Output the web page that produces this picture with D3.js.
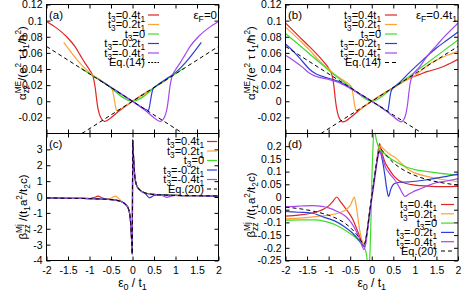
<!DOCTYPE html>
<html>
<head>
<meta charset="utf-8">
<script src="https://cdn.jsdelivr.net/npm/d3@7"></script>
<style>
  body { margin: 0; background: #fff; }
  svg text { font-family: "Liberation Sans", Arial, sans-serif; fill: #000; }
</style>
</head>
<body>
<svg id="chart" width="461" height="291"></svg>
<script>
// ── Data ─────────────────────────────────────────────────────────────────────
const X_TICKS = [-2, -1.5, -1, -0.5, 0, 0.5, 1, 1.5, 2];
const X_TICK_LABELS = ["-2", "-1.5", "-1", "-0.5", "0", "0.5", "1", "1.5", "2"];

const ALPHA_TICKS = [-0.02, 0, 0.02, 0.04, 0.06, 0.08, 0.1, 0.12];
const ALPHA_TICK_LABELS = ["-0.02", "0", "0.02", "0.04", "0.06", "0.08", "0.1", "0.12"];
const BETA_C_TICKS = [-4, -3, -2, -1, 0, 1, 2, 3];
const BETA_C_TICK_LABELS = ["-4", "-3", "-2", "-1", "0", "1", "2", "3"];
const BETA_D_TICKS = [-0.25, -0.2, -0.15, -0.1, -0.05, 0, 0.05, 0.1, 0.15, 0.2];
const BETA_D_TICK_LABELS = ["-0.25", "-0.2", "-0.15", "-0.1", "-0.05", "0", "0.05", "0.1", "0.15", "0.2"];

const T3_VALUES = ["0.4", "0.2", "0", "-0.2", "-0.4"];

// panel (a): eF = 0
const A_RED = [[-2,0.099],[-1.77,0.091],[-1.53,0.08],[-1.34,0.068],[-1.22,0.0575],[-1.1,0.047],[-1.0,0.039],[-0.91,0.029],[-0.87,0.018],[-0.84,0.005],[-0.81,-0.007],[-0.77,-0.016],[-0.72,-0.022],[-0.65,-0.025],[-0.58,-0.0235],[-0.5,-0.0205],[-0.3,-0.0115],[0,0],[0.4,0.0136]];
const A_ORANGE = [[-1.6,0.073],[-1.38,0.0575],[-1.2,0.046],[-1.03,0.037],[-0.85,0.03],[-0.68,0.024],[-0.55,0.019],[-0.48,0.016],[-0.45,0.01],[-0.42,0.001],[-0.39,-0.008],[-0.37,-0.0115],[-0.3,-0.01],[0,0],[0.4,0.0135],[0.8,0.0265]];
const A_GREEN = [[-1.2,0.041],[-0.6,0.0205],[0,0],[0.6,0.0205],[1.2,0.041]];
const A_BLUE = [[-0.8,0.0275],[-0.4,0.0138],[0,0],[0.3,-0.01],[0.37,-0.0115],[0.39,-0.008],[0.42,0.001],[0.45,0.01],[0.48,0.016],[0.55,0.019],[0.68,0.024],[0.85,0.03],[1.03,0.037],[1.2,0.046],[1.38,0.0575],[1.6,0.073]];
const A_PURPLE = [[-0.4,0.0136],[0,0],[0.3,-0.0115],[0.5,-0.0205],[0.58,-0.0235],[0.65,-0.025],[0.72,-0.022],[0.77,-0.016],[0.81,-0.007],[0.84,0.005],[0.87,0.018],[0.91,0.029],[1.0,0.039],[1.1,0.047],[1.22,0.0575],[1.34,0.068],[1.53,0.08],[1.77,0.091],[2,0.099]];

// Eq.(14): the two straight lines
const EQ14_DOWN = [[-2,0.068],[2,-0.068]];
const EQ14_UP = [[-2,-0.068],[2,0.068]];

// panel (b): eF = 0.4 t1
const B_RED = [[-2,0.097],[-1.7,0.081],[-1.45,0.068],[-1.23,0.056],[-1.1,0.048],[-1.0,0.041],[-0.92,0.032],[-0.88,0.02],[-0.85,0.005],[-0.82,-0.007],[-0.78,-0.017],[-0.73,-0.023],[-0.68,-0.0255],[-0.6,-0.0245],[-0.5,-0.0205],[-0.3,-0.0115],[0,0],[0.3,0.0105],[0.6,0.02],[0.85,0.028],[1.1,0.033],[1.3,0.037],[1.5,0.04],[1.7,0.044],[2,0.052]];
const B_ORANGE = [[-2,0.092],[-1.7,0.077],[-1.45,0.064],[-1.23,0.051],[-1.0,0.04],[-0.8,0.031],[-0.6,0.024],[-0.5,0.02],[-0.46,0.016],[-0.43,0.007],[-0.4,-0.004],[-0.37,-0.0105],[-0.33,-0.0115],[-0.2,-0.007],[0,0],[0.4,0.0135],[0.8,0.026],[1.0,0.032],[1.15,0.038],[1.3,0.045],[1.5,0.051],[1.75,0.057],[2,0.062]];
const B_GREEN = [[-2,0.084],[-1.6,0.066],[-1.23,0.049],[-0.9,0.034],[-0.5,0.018],[0,0],[0.5,0.017],[0.9,0.032],[1.2,0.044],[1.6,0.06],[2,0.076]];
const B_BLUE = [[-2,0.071],[-1.8,0.061],[-1.6,0.049],[-1.45,0.04],[-1.3,0.034],[-1.1,0.03],[-0.9,0.027],[-0.7,0.023],[-0.4,0.013],[0,0],[0.2,-0.0068],[0.33,-0.0115],[0.37,-0.012],[0.4,-0.004],[0.43,0.008],[0.47,0.015],[0.6,0.021],[0.9,0.037],[1.2,0.052],[1.5,0.066],[1.75,0.076],[2,0.086]];
const B_PURPLE = [[-2,0.057],[-1.8,0.05],[-1.6,0.042],[-1.45,0.035],[-1.3,0.031],[-1.0,0.027],[-0.8,0.024],[-0.5,0.016],[0,0],[0.3,-0.0105],[0.5,-0.019],[0.62,-0.024],[0.68,-0.0255],[0.74,-0.023],[0.79,-0.016],[0.83,-0.004],[0.86,0.01],[0.89,0.022],[0.93,0.03],[1.1,0.042],[1.31,0.0575],[1.5,0.069],[1.7,0.081],[2,0.097]];

// panel (c): eF = 0, shared energy grid
const C_X = [-2,-1.5,-1.2,-1,-0.9,-0.8,-0.7,-0.6,-0.5,-0.4,-0.3,-0.2,-0.15,-0.1,-0.07,-0.05,-0.03,-0.015,-0.005,0.005,0.015,0.03,0.05,0.07,0.1,0.15,0.2,0.3,0.4,0.5,0.6,0.7,0.8,0.9,1,1.2,1.5,2];
const C_RED    = [-0.06,-0.08,-0.09,-0.1,-0.04,0.05,-0.06,-0.14,-0.16,-0.19,-0.25,-0.38,-0.5,-0.7,-1.0,-1.4,-2.2,-3.0,-3.6,3.6,3.0,2.2,1.4,1.0,0.7,0.5,0.38,0.25,0.19,0.16,0.14,0.13,0.12,0.11,0.1,0.09,0.08,0.06];
const C_ORANGE = [-0.06,-0.08,-0.09,-0.1,-0.11,-0.12,-0.13,-0.14,-0.08,0.05,-0.15,-0.38,-0.5,-0.7,-1.0,-1.4,-2.2,-3.0,-3.6,3.6,3.0,2.2,1.4,1.0,0.7,0.5,0.38,0.25,0.19,0.16,0.14,0.13,0.12,0.11,0.1,0.09,0.08,0.06];
const C_GREEN  = [-0.06,-0.08,-0.09,-0.1,-0.11,-0.12,-0.13,-0.14,-0.16,-0.19,-0.25,-0.38,-0.5,-0.7,-1.0,-1.4,-2.2,-3.0,-3.6,3.6,3.0,2.2,1.4,1.0,0.7,0.5,0.38,0.25,0.19,0.16,0.14,0.13,0.12,0.11,0.1,0.09,0.08,0.06];
const C_BLUE   = [-0.06,-0.08,-0.09,-0.1,-0.11,-0.12,-0.13,-0.14,-0.16,-0.19,-0.25,-0.38,-0.5,-0.7,-1.0,-1.4,-2.2,-3.0,-3.6,3.6,3.0,2.2,1.4,1.0,0.7,0.5,0.38,0.2,-0.05,0.1,0.14,0.13,0.12,0.11,0.1,0.09,0.08,0.06];
const C_PURPLE = [-0.06,-0.08,-0.09,-0.1,-0.11,-0.12,-0.13,-0.14,-0.16,-0.19,-0.25,-0.38,-0.5,-0.7,-1.0,-1.4,-2.2,-3.0,-3.6,3.6,3.0,2.2,1.4,1.0,0.7,0.5,0.38,0.25,0.19,0.16,0.14,0.08,-0.02,0.06,0.1,0.09,0.08,0.06];
const C_EQ20   = [-0.06,-0.08,-0.09,-0.1,-0.11,-0.12,-0.13,-0.14,-0.16,-0.19,-0.25,-0.38,-0.5,-0.7,-1.0,-1.4,-2.2,-3.0,-3.6,3.6,3.0,2.2,1.4,1.0,0.7,0.5,0.38,0.25,0.19,0.16,0.14,0.13,0.12,0.11,0.1,0.09,0.08,0.06];

// panel (d): eF = 0.4 t1
const D_RED = [[-2,-0.075],[-1.7,-0.071],[-1.5,-0.067],[-1.25,-0.057],[-1.1,-0.046],[-1.0,-0.035],[-0.9,-0.017],[-0.81,0.0],[-0.74,-0.015],[-0.65,-0.035],[-0.55,-0.058],[-0.45,-0.085],[-0.35,-0.125],[-0.28,-0.155],[-0.21,-0.182],[-0.17,-0.188],[-0.12,-0.15],[-0.05,-0.06],[0,0],[0.05,0.06],[0.1,0.12],[0.15,0.185],[0.18,0.21],[0.22,0.185],[0.3,0.14],[0.4,0.11],[0.5,0.085],[0.62,0.066],[0.8,0.053],[1.0,0.047],[1.3,0.043],[1.6,0.041],[2,0.042]];
const D_ORANGE = [[-2,-0.086],[-1.6,-0.082],[-1.25,-0.076],[-1.0,-0.071],[-0.77,-0.063],[-0.6,-0.05],[-0.5,-0.033],[-0.45,-0.015],[-0.405,0.0],[-0.37,-0.025],[-0.33,-0.07],[-0.28,-0.13],[-0.22,-0.175],[-0.18,-0.19],[-0.12,-0.15],[-0.05,-0.06],[0,0],[0.05,0.06],[0.1,0.12],[0.15,0.17],[0.2,0.2],[0.27,0.19],[0.4,0.17],[0.55,0.155],[0.7,0.13],[0.85,0.108],[1.0,0.095],[1.3,0.08],[1.6,0.07],[2,0.061]];
const D_GREEN = [[-2,-0.091],[-1.6,-0.09],[-1.3,-0.09],[-1.0,-0.1],[-0.8,-0.113],[-0.6,-0.133],[-0.45,-0.15],[-0.3,-0.172],[-0.2,-0.19],[-0.13,-0.22],[-0.08,-0.27],[-0.05,-0.25],[-0.02,-0.1],[0.0,0.05],[0.03,0.2],[0.06,0.27],[0.1,0.23],[0.15,0.2],[0.2,0.185],[0.3,0.17],[0.45,0.15],[0.6,0.135],[0.8,0.118],[1.0,0.108],[1.3,0.1],[1.6,0.093],[2,0.086]];
const D_BLUE = [[-2,-0.057],[-1.7,-0.06],[-1.4,-0.063],[-1.1,-0.08],[-0.85,-0.095],[-0.65,-0.115],[-0.46,-0.14],[-0.32,-0.165],[-0.23,-0.186],[-0.17,-0.195],[-0.12,-0.15],[-0.05,-0.06],[0,0],[0.05,0.06],[0.1,0.12],[0.15,0.165],[0.19,0.18],[0.24,0.15],[0.3,0.09],[0.35,0.03],[0.39,0.002],[0.44,0.03],[0.52,0.052],[0.65,0.058],[0.9,0.06],[1.2,0.066],[1.5,0.074],[2,0.09]];
const D_PURPLE = [[-2,-0.039],[-1.7,-0.036],[-1.38,-0.034],[-1.15,-0.037],[-1.0,-0.043],[-0.8,-0.057],[-0.61,-0.076],[-0.48,-0.1],[-0.38,-0.128],[-0.28,-0.165],[-0.22,-0.195],[-0.18,-0.207],[-0.14,-0.185],[-0.08,-0.11],[0,-0.01],[0.05,0.05],[0.1,0.11],[0.15,0.165],[0.19,0.18],[0.25,0.155],[0.31,0.12],[0.4,0.095],[0.54,0.066],[0.65,0.035],[0.72,0.012],[0.77,0.002],[0.85,0.01],[0.95,0.02],[1.08,0.029],[1.3,0.045],[1.47,0.055],[1.7,0.062],[2,0.072]];
const D_EQ20 = [[-2,-0.04],[-1.6,-0.048],[-1.3,-0.058],[-1.0,-0.072],[-0.75,-0.09],[-0.5,-0.12],[-0.35,-0.148],[-0.25,-0.172],[-0.18,-0.186],[-0.12,-0.15],[-0.05,-0.06],[0,0],[0.05,0.06],[0.1,0.12],[0.15,0.17],[0.2,0.19],[0.3,0.17],[0.5,0.135],[0.75,0.105],[1.0,0.085],[1.3,0.068],[1.6,0.057],[2,0.047]];

const COLORS = ["#e02424", "#ffa235", "#3fdc2c", "#2b3fd6", "#a347ef"];

// ── Panel setup ───────────────────────────────────────────────────────────────
const PANELS = [
    { key: "a", left: 46.5, right: 218.5, top: 4.5, bottom: 133.5, ydom: [-0.04, 0.12],
      yticks: ALPHA_TICKS, ylabels: ALPHA_TICK_LABELS, bottomRow: false,
      series: [A_RED, A_ORANGE, A_GREEN, A_BLUE, A_PURPLE], dashed: [EQ14_DOWN, EQ14_UP],
      legend: { end: 145, l0: 148, l1: 159, y0: 15, dy: 9.5, eq: "Eq.(14)", eqDash: "2,1.2" },
      ef: { end: 217, parts: [["ε"], ["F", "sub"], ["=0"]] },
      ylab: { x: 26, y: 63, kind: "alpha" } },
    { key: "b", left: 285.5, right: 458, top: 4.5, bottom: 133.5, ydom: [-0.04, 0.12],
      yticks: ALPHA_TICKS, ylabels: ALPHA_TICK_LABELS, bottomRow: false,
      series: [B_RED, B_ORANGE, B_GREEN, B_BLUE, B_PURPLE], dashed: [EQ14_DOWN, EQ14_UP],
      legend: { end: 381, l0: 385, l1: 397, y0: 15, dy: 9.5, eq: "Eq.(14)", eqDash: "4,3" },
      ef: { end: 457, parts: [["ε"], ["F", "sub"], ["=0.4t"], ["1", "sub"]] },
      ylab: { x: 255, y: 63, kind: "alpha" } },
    { key: "c", left: 46.5, right: 218.5, top: 133.5, bottom: 260.5, ydom: [-4, 4],
      yticks: BETA_C_TICKS, ylabels: BETA_C_TICK_LABELS, bottomRow: true,
      series: [C_RED, C_ORANGE, C_GREEN, C_BLUE, C_PURPLE].map(v => d3.zip(C_X, v)),
      dashed: [d3.zip(C_X, C_EQ20)],
      legend: { end: 204, l0: 207, l1: 217, y0: 141.5, dy: 9.5, eq: "Eq.(20)", eqDash: "4,3" },
      ylab: { x: 27, y: 207, kind: "beta" } },
    { key: "d", left: 285.5, right: 458, top: 133.5, bottom: 260.5, ydom: [-0.25, 0.25],
      yticks: BETA_D_TICKS, ylabels: BETA_D_TICK_LABELS, bottomRow: true,
      series: [D_RED, D_ORANGE, D_GREEN, D_BLUE, D_PURPLE], dashed: [D_EQ20],
      legend: { end: 437, l0: 441, l1: 454, y0: 204.5, dy: 9.3, eq: "Eq.(20)", eqDash: "4,3" },
      ylab: { x: 255, y: 205, kind: "beta" } },
];

const svg = d3.select("#chart");

// rich text: parts are [string, mode] with mode "", "sub", "sup" or "stack" (sub under previous sup)
function rich(text, parts, size, small = 0.75) {
    text.attr("font-size", size);
    let shift = 0, prevW = 0, pending = 0;
    parts.forEach(([s, m]) => {
        const target = (m === "sub" || m === "stack") ? size * 0.28 : m === "sup" ? -size * 0.42 : 0;
        const ts = text.append("tspan")
            .attr("dy", target - shift)
            .attr("font-size", m ? size * small : size)
            .text(s);
        if (m === "stack") ts.attr("dx", -prevW);
        else if (pending > 0) ts.attr("dx", pending);
        shift = target;
        const w = ts.node().getComputedTextLength();
        pending = m === "stack" ? Math.max(0, prevW - w) : 0;
        prevW = w;
    });
}

const Y_LABEL_PARTS = {
    alpha: [["α"], ["ME", "sup"], ["zz", "stack"], ["/(e"], ["2", "sup"], [" τ t"], ["1", "sub"], ["/ħ"], ["2", "sup"], [")"]],
    beta: [["β"], ["Mj", "sup"], ["zz", "stack"], [" /(t"], ["1", "sub"], ["a"], ["2", "sup"], ["/t"], ["2", "sub"], ["c)"]],
};

PANELS.forEach(p => {
    const x = d3.scaleLinear().domain([-2, 2]).range([p.left, p.right]);
    const y = d3.scaleLinear().domain(p.ydom).range([p.bottom, p.top]);
    const g = svg.append("g");

    const clipId = `clip-${p.key}`;
    svg.append("clipPath").attr("id", clipId).append("rect")
        .attr("x", p.left).attr("y", p.top)
        .attr("width", p.right - p.left).attr("height", p.bottom - p.top);

    const tidy = s => {
        s.select(".domain").remove();
        s.attr("font-family", null).attr("font-size", 10.5);
        s.selectAll("line").attr("stroke", "#000");
    };

    // axes (ticks point inward, mirrored on all sides)
    g.append("g").attr("transform", `translate(${p.left},0)`)
        .call(d3.axisLeft(y).tickValues(p.yticks).tickFormat((d, i) => p.ylabels[i]).tickSize(-4).tickPadding(4))
        .call(tidy);
    g.append("g").attr("transform", `translate(${p.right},0)`)
        .call(d3.axisRight(y).tickValues(p.yticks).tickFormat("").tickSize(-4))
        .call(tidy);
    g.append("g").attr("transform", `translate(0,${p.bottom})`)
        .call(d3.axisBottom(x).tickValues(X_TICKS)
            .tickFormat((d, i) => p.bottomRow ? X_TICK_LABELS[i] : "").tickSize(-4).tickPadding(6))
        .call(tidy);
    g.append("g").attr("transform", `translate(0,${p.top})`)
        .call(d3.axisTop(x).tickValues(X_TICKS).tickFormat("").tickSize(-4))
        .call(tidy);

    // curves
    const line = d3.line().x(d => x(d[0])).y(d => y(d[1])).curve(d3.curveMonotoneX);
    const straight = d3.line().x(d => x(d[0])).y(d => y(d[1]));
    const plot = g.append("g").attr("clip-path", `url(#${clipId})`);
    p.series.forEach((s, i) => {
        plot.append("path").datum(s)
            .attr("fill", "none").attr("stroke", COLORS[i]).attr("stroke-width", 1.2)
            .attr("d", line);
    });
    p.dashed.forEach(s => {
        plot.append("path").datum(s)
            .attr("fill", "none").attr("stroke", "#000").attr("stroke-width", 1)
            .attr("stroke-dasharray", "4,3")
            .attr("d", s.length === 2 ? straight(s) : line(s));
    });

    // frame
    g.append("rect")
        .attr("x", p.left).attr("y", p.top)
        .attr("width", p.right - p.left).attr("height", p.bottom - p.top)
        .attr("fill", "none").attr("stroke", "#000").attr("stroke-width", 1);

    // panel letter
    g.append("text").attr("x", p.left + 2.5).attr("y", p.top + 14.5)
        .attr("font-size", 11.5).text(`(${p.key})`);

    // legend
    const L = p.legend;
    T3_VALUES.forEach((v, i) => {
        const yy = L.y0 + i * L.dy;
        const t = g.append("text").attr("x", L.end).attr("y", yy + 3.8)
            .attr("text-anchor", "end");
        const parts = [["t"], ["3", "sub"], [`=${v}${v === "0" ? "" : "t"}`]];
        if (v !== "0") parts.push(["1", "sub"]);
        rich(t, parts, 11);
        g.append("line").attr("x1", L.l0).attr("x2", L.l1).attr("y1", yy).attr("y2", yy)
            .attr("stroke", COLORS[i]).attr("stroke-width", 1.2);
    });
    const yEq = L.y0 + 5 * L.dy;
    g.append("text").attr("x", L.end).attr("y", yEq + 3.8).attr("text-anchor", "end")
        .attr("font-size", 11).text(L.eq);
    g.append("line").attr("x1", L.l0).attr("x2", L.l1).attr("y1", yEq).attr("y2", yEq)
        .attr("stroke", "#000").attr("stroke-width", 1).attr("stroke-dasharray", L.eqDash);

    // Fermi energy note
    if (p.ef) {
        const t = g.append("text").attr("x", p.ef.end).attr("y", p.top + 14.5).attr("text-anchor", "end");
        rich(t, p.ef.parts, 11.5);
    }

    // x label
    if (p.bottomRow) {
        const t = g.append("text").attr("x", (p.left + p.right) / 2).attr("y", 287)
            .attr("text-anchor", "middle");
        rich(t, [["ε"], ["0", "sub"], [" / t"], ["1", "sub"]], 12);
    }

    // y label
    const yl = g.append("text")
        .attr("transform", `translate(${p.ylab.x},${p.ylab.y}) rotate(-90)`)
        .attr("text-anchor", "middle");
    rich(yl, Y_LABEL_PARTS[p.ylab.kind], 11.5, 0.72);
});
</script>
</body>
</html>
